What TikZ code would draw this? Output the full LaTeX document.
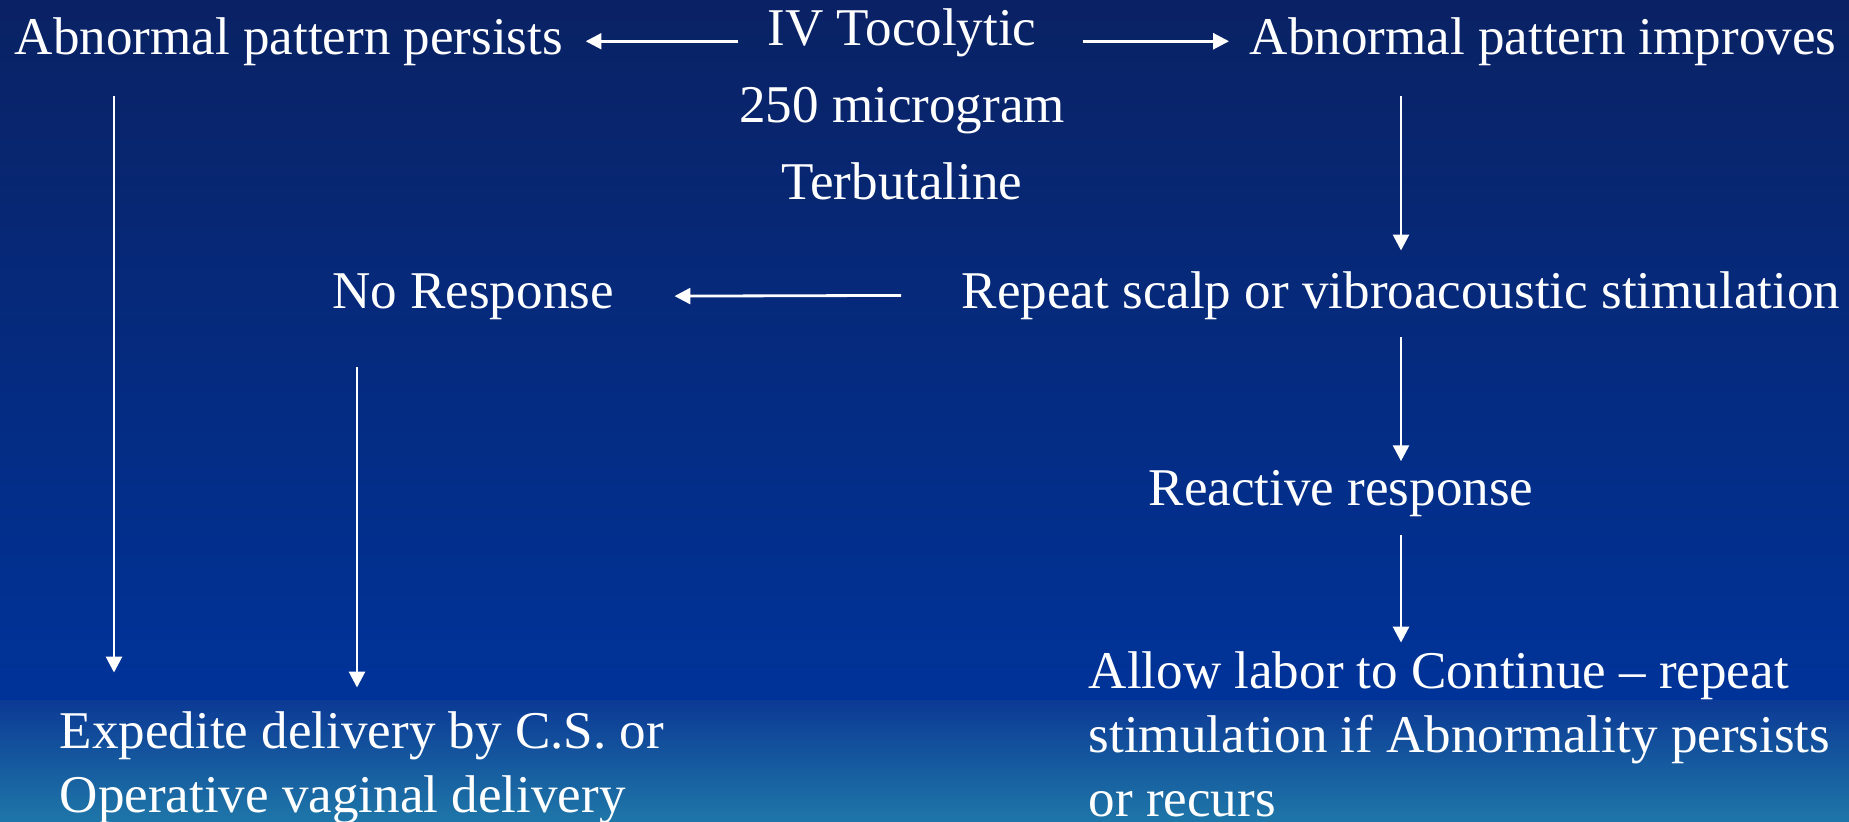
\documentclass[tikz,border=0pt]{standalone}
\usepackage{fontspec}
\setmainfont{Liberation Serif}
\usetikzlibrary{arrows.meta, calc}
\definecolor{slidetop}{RGB}{10,34,100}
\definecolor{slidemid}{RGB}{0,51,153}
\definecolor{bandtop}{RGB}{12,58,149}
\definecolor{bandbot}{RGB}{30,118,168}

\tikzset{
  lbl/.style={text=white, inner sep=0pt, font=\fontsize{15.1pt}{18.2pt}\selectfont},
  flow/.style={-{Triangle[length=4.5pt, width=4.5pt]}, draw=white, line width=0.8pt}
}

\begin{document}
\begin{tikzpicture}[x=0.1mm, y=-0.1mm]
    % background
    \shade[top color=slidetop, bottom color=slidemid] (0,0) rectangle (1849,700);
    \shade[top color=bandtop, bottom color=bandbot] (0,700) rectangle (1849,821);
    \useasboundingbox (0,0) rectangle (1849,821);

    % multi-line nodes: base = baseline of last line
    \node[lbl, anchor=base west] (persists) at (14, 54) {Abnormal pattern persists};
    \node[lbl, anchor=base, align=center,
          font=\fontsize{15.1pt}{21.9pt}\selectfont] (toco) at (902, 199)
          {IV Tocolytic\\250 microgram\\Terbutaline};
    \node[lbl, anchor=base east] (improves) at (1837, 54) {Abnormal pattern improves};
    \node[lbl, anchor=base] (noresp) at (473, 308) {No Response};
    \node[lbl, anchor=base] (repeat) at (1401, 308) {Repeat scalp or vibroacoustic stimulation};
    \node[lbl, anchor=base] (reactive) at (1341, 505) {Reactive response};
    \node[lbl, anchor=base west, align=left] (allow) at (1088, 816)
          {Allow labor to Continue -- repeat\\stimulation if Abnormality persists\\or recurs};
    \node[lbl, anchor=base west, align=left] (expedite) at (59, 812)
          {Expedite delivery by C.S. or\\Operative vaginal delivery};

    \draw[flow, shorten >=2.2mm] (toco.west |- persists) -- (persists.east);
    \draw[flow, shorten <=1.7mm, shorten >=2mm] (toco.east |- improves) -- (improves.west);
    \draw[flow, shorten <=6mm, shorten >=6mm] (repeat.west) -- (noresp.east);
    \draw[flow, shorten <=3mm, shorten >=2mm] (repeat.north |- improves.south) -- (repeat.north);
    \draw[flow, shorten <=1.7mm, shorten >=0.8mm] (repeat.south) -- (repeat.south |- reactive.north);
    \draw[flow, shorten <=1.8mm, shorten >=0.8mm] (repeat.south |- reactive.south) -- (repeat.south |- allow.north);
    \draw[flow, shorten <=3mm, shorten >=3.8mm] (114,0 |- persists.south) -- (114,0 |- expedite.north);
    \draw[flow, shorten <=4.7mm, shorten >=2.3mm] (357,0 |- noresp.south) -- (357,0 |- expedite.north);
\end{tikzpicture}
\end{document}
